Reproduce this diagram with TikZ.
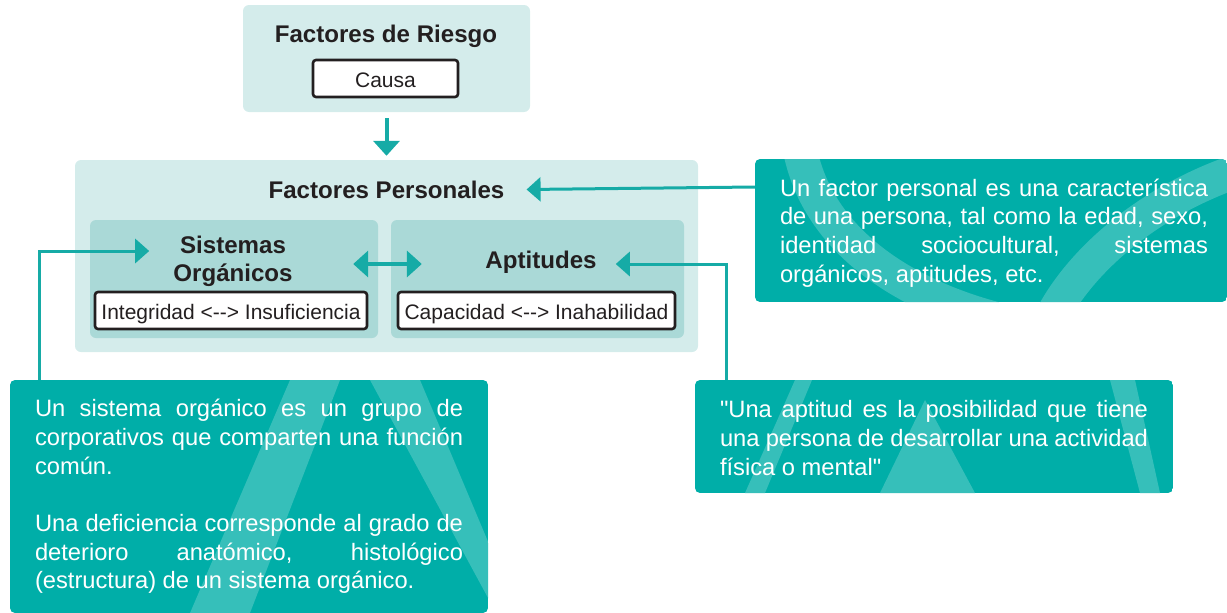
\documentclass[tikz,border=0pt]{standalone}
\usepackage{fontspec}
\setmainfont{Liberation Sans}[Ligatures=TeXOff]
\usetikzlibrary{arrows.meta}
\definecolor{teal1}{HTML}{00AEA8}
\definecolor{arrc}{HTML}{16ABA6}
\definecolor{lightbg}{HTML}{D4ECEB}
\definecolor{midbg}{HTML}{AAD9D7}
\definecolor{wm}{HTML}{36BFBA}
\definecolor{txt}{HTML}{231F20}
\begin{document}
\begin{tikzpicture}[x=1pt,y=-1pt,
  panel/.style={fill=lightbg, rounded corners=6pt, inner sep=0pt},
  inner/.style={fill=midbg, rounded corners=6pt, inner sep=0pt},
  infobox/.style={fill=teal1, rounded corners=5pt, inner sep=0pt},
  title/.style={font=\bfseries\fontsize{24.1}{28}\selectfont, text=txt, inner sep=0pt, align=center},
  whitebox/.style={fill=white, draw=txt, line width=2.6pt, rounded corners=3pt, inner sep=0pt, text height=18.5pt, text depth=1.5pt, font=\fontsize{21}{24}\selectfont, text=txt},
  infotext/.style={text width=428pt, align=justify, text=white, inner sep=0pt, font=\fontsize{23.7}{28.7}\selectfont},
  arr/.style={draw=arrc, line width=4pt, -{Triangle[width=26pt,length=15pt]}},
  dbl/.style={draw=arrc, line width=4pt, {Triangle[width=26pt,length=15pt]}-{Triangle[width=26pt,length=15pt]}},
  conn/.style={draw=arrc, line width=3pt, -{Triangle[width=24pt,length=14pt]}},
  wmark/.style={fill=wm}
]
\useasboundingbox (0,0) rectangle (1227,613);

% top panel
\node[panel, minimum width=287pt, minimum height=107pt] (riesgo) at (386.5,58.5) {};
\node[title] (riesgoT) at (386,36) {Factores de Riesgo};
\node[whitebox, minimum width=145pt, minimum height=37pt] (causa) at (385.5,78.5) {Causa};

% personal factors panel
\node[panel, minimum width=623pt, minimum height=192pt] (personales) at (386.5,256) {};
\node[title] (persT) at (386.5,189.5) {Factores Personales};
\node[inner, minimum width=288pt, minimum height=118pt] (sisBox) at (234,279) {};
\node[inner, minimum width=293pt, minimum height=118pt] (aptBox) at (537.5,279) {};
\node[title] (sisT) at (233,261) {Sistemas\\Orgánicos};
\node[title] (aptT) at (541,262) {Aptitudes};
\node[whitebox, minimum width=272pt, minimum height=37pt] (integ) at (231,310.5) {Integridad <--> Insuficiencia};
\node[whitebox, minimum width=277pt, minimum height=37pt] (capac) at (536.5,310.5) {Capacidad <--> Inahabilidad};

% info boxes
\begin{scope}
\clip[rounded corners=5pt] (755,159) rectangle (1227,302);
\fill[teal1] (755,159) rectangle (1227,302);
\draw[wm, line width=34pt] (800,150) .. controls (820,250) and (920,300) .. (1000,320);
\draw[wm, line width=34pt] (1050,320) .. controls (1080,260) and (1150,200) .. (1240,170);
\end{scope}
\node[infobox, fill=none, minimum width=472pt, minimum height=143pt] (infoPer) at (991,230.5) {};
\node[infotext] (infoPerT) at (994,233) {Un factor personal es una característica\linebreak de una persona, tal como la edad, sexo,\linebreak identidad sociocultural, sistemas\linebreak orgánicos, aptitudes, etc.};

\begin{scope}
\clip[rounded corners=5pt] (10,380) rectangle (488,613);
\fill[teal1] (10,380) rectangle (488,613);
\fill[wm] (190,613) -- (290,380) -- (340,380) -- (250,613) -- cycle;
\fill[wm] (370,380) -- (420,380) -- (500,570) -- (500,620) -- cycle;
\end{scope}
\node[infobox, fill=none, minimum width=478pt, minimum height=233pt] (infoSis) at (249,496.5) {};
\node[infotext] (infoSisT) at (249,496.5) {Un sistema orgánico es un grupo de\linebreak corporativos que comparten una función\linebreak común.\\[28.7pt]Una deficiencia corresponde al grado de\linebreak deterioro anatómico, histológico\linebreak (estructura) de un sistema orgánico.};

\begin{scope}
\clip[rounded corners=5pt] (695,380) rectangle (1173,493);
\fill[teal1] (695,380) rectangle (1173,493);
\fill[wm] (745,493) -- (795,380) -- (812,380) -- (765,493) -- cycle;
\fill[wm] (880,493) -- (925,400) -- (975,493) -- cycle;
\fill[wm] (1110,380) -- (1135,380) -- (1160,493) -- (1140,493) -- cycle;
\end{scope}
\node[infobox, fill=none, minimum width=478pt, minimum height=113pt] (infoApt) at (934,436.5) {};
\node[infotext] (infoAptT) at (934,438) {"Una aptitud es la posibilidad que tiene\linebreak una persona de desarrollar una actividad\linebreak física o mental"};

% arrows
\draw[arr] ([yshift=-6pt]riesgo.south) -- ([yshift=4pt]personales.north);
\draw[dbl] ([shift={(-25,-15)}]sisBox.east) -- ([shift={(31,-15)}]aptBox.west);
\draw[conn] ([yshift=43.5pt]infoPer.west) -- ([xshift=22pt]persT.east);
\draw[conn] ([xshift=30pt]infoSis.north west) |- ([shift={(-24,-10)}]sisT.west);
\draw[conn] ([xshift=32pt]infoApt.north west) |- ([shift={(19,2)}]aptT.east);
\end{tikzpicture}
\end{document}
